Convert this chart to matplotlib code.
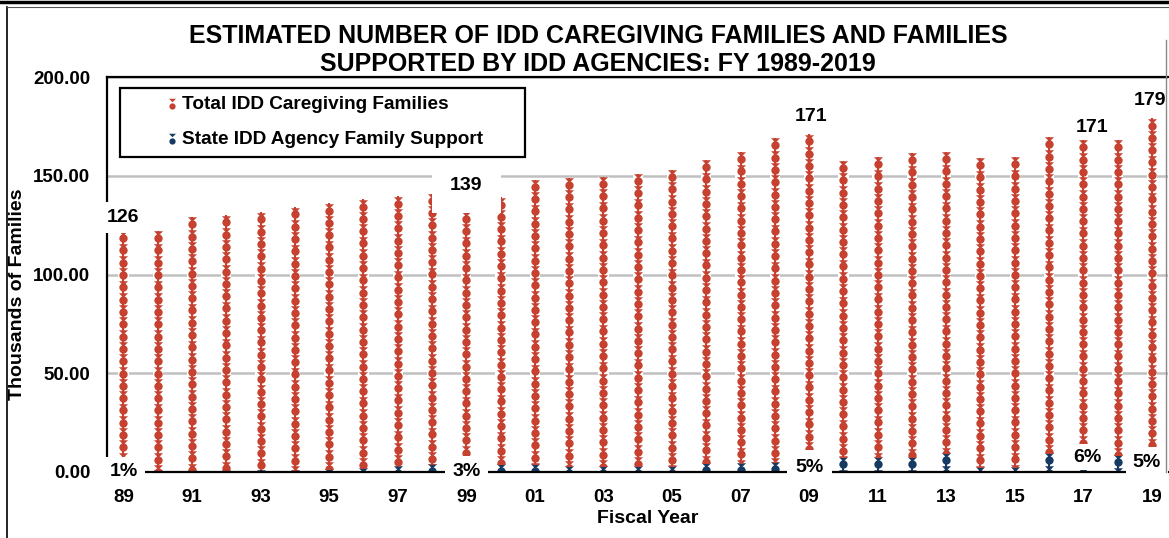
import numpy as np
import matplotlib.pyplot as plt
from matplotlib.patches import Rectangle
from matplotlib.lines import Line2D

plt.rcParams['font.family'] = ['Liberation Sans', 'DejaVu Sans']
plt.rcParams['font.weight'] = 'bold'

# Thousands of families
years = np.arange(1989, 2020)
total = [122, 122, 129, 130, 131.5, 134, 136, 138, 139.5, 141, 138, 139, 148, 149, 149.5,
         151, 153, 158, 162, 169, 171, 157.5, 159.5, 161.5, 162, 159, 159.5, 169.5, 168, 168, 179]
state = [1, 1, 1, 1, 1, 1.2, 1.5, 2, 3, 4, 4, 4, 4, 3, 3, 3, 3, 4.5, 4.5, 5, 8,
         7.5, 7.5, 7.5, 9.5, 2.5, 2.5, 9.5, 1.5, 8.5, 9]

tick_years = years[::2]
tick_labels = ['%02d' % (y % 100) for y in tick_years]
y_ticks = [0, 50, 100, 150, 200]

label_years = [1989, 1999, 2009, 2017, 2019]
label_totals = ['126', '139', '171', '171', '179']
label_pcts = ['1%', '3%', '5%', '6%', '5%']

red = '#c6412f'
navy = '#173a63'

fig = plt.figure(figsize=(11.69, 5.38), dpi=100)
ax = fig.add_axes([107 / 1169, 66 / 538, 1061 / 1169, 395 / 538])
ax.set_xlim(1988.52, 2019.47)
ax.set_ylim(0, 200)

# white strip behind every column (breaks the gridlines like the original)
ax.bar(years, total, width=0.3, color='white', zorder=1)

step = 6.23
tri = [(-1, 0.5), (1, 0.5), (0, -0.5)]


def icon_stack(x, lo, hi, color):
    if hi <= lo:
        return
    tops = np.arange(hi, lo - step, -step)
    clip = Rectangle((x - 0.3, lo), 0.6, hi - lo, transform=ax.transData)
    arts = ax.plot([x, x], [lo, hi], color=color, lw=1.5, zorder=2)
    arts += ax.plot(np.full(len(tops), x), tops - 1.14, ls='none', marker=tri,
                    ms=6.5, color=color, mec='none', zorder=2)
    arts += ax.plot(np.full(len(tops), x), tops - 3.6, ls='none', marker='o',
                    ms=6.0, color=color, mec='none', zorder=2)
    for a in arts:
        a.set_clip_path(clip)


for x, t, s in zip(years, total, state):
    icon_stack(x, 0, s, navy)
    icon_stack(x, s, t, red)

ax.set_axisbelow(True)
ax.yaxis.grid(True, color='#c0c0c0', lw=1.8)
ax.set_xticks(tick_years)
ax.set_xticklabels(tick_labels)
ax.set_yticks(y_ticks)
ax.set_yticklabels(['%.2f' % v for v in y_ticks])
ax.tick_params(axis='both', length=0, labelsize=13.5)
ax.tick_params(axis='y', pad=12)
ax.tick_params(axis='x', pad=12)
for side in ['left', 'bottom', 'top']:
    ax.spines[side].set_linewidth(1.6)
    ax.spines[side].set_color('black')
ax.spines['right'].set_visible(False)

ax.text(0.51, -0.118, 'Fiscal Year', transform=ax.transAxes, ha='center',
        va='center', fontsize=14)
fig.text(18 / 1169, 1 - 294 / 538, 'Thousands of Families', rotation=90,
         ha='center', va='center', fontsize=14)

fig.text(598 / 1169, 1 - 50 / 538,
         'ESTIMATED NUMBER OF IDD CAREGIVING FAMILIES AND FAMILIES\n'
         'SUPPORTED BY IDD AGENCIES: FY 1989-2019',
         ha='center', va='center', fontsize=18, linespacing=1.2)

# value labels on white boxes
top_off = [(0, 9.4), (0, 9.7), (1.5, 12.5), (6.5, 9.5), (-1.5, 12.6)]
top_pad = [5, 13, 0, 0, 0]
pct_off = [(0, 0), (0, 0), (0, 3.6), (3, 10.8), (-3.6, 6.5)]
pct_pad = [5, 5.5, 6, 3, 5]
for i, yr in enumerate(label_years):
    t = total[list(years).index(yr)]
    box = dict(facecolor='white', edgecolor='none', pad=top_pad[i]) if top_pad[i] else None
    ax.annotate(label_totals[i], xy=(yr, t), xytext=top_off[i], textcoords='offset points',
                ha='center', va='center', fontsize=14, bbox=box, zorder=10,
                annotation_clip=False)
    ax.annotate(label_pcts[i], xy=(yr, 0), xytext=pct_off[i], textcoords='offset points',
                ha='center', va='center', fontsize=14, zorder=10, annotation_clip=False,
                bbox=dict(facecolor='white', edgecolor='none', pad=pct_pad[i]))

# legend box drawn by hand
ax.add_patch(Rectangle((0.0123, 0.797), 0.382, 0.175, transform=ax.transAxes,
                       facecolor='white', edgecolor='black', lw=1.6, zorder=11))
for yy, col, name in [(0.9316, red, 'Total IDD Caregiving Families'),
                      (0.843, navy, 'State IDD Agency Family Support')]:
    ax.plot([0.0613], [yy + 0.009], ls='none', marker=tri, ms=5, color=col, mec='none',
            transform=ax.transAxes, zorder=12)
    ax.plot([0.0613], [yy - 0.004], ls='none', marker='o', ms=4.5, color=col, mec='none',
            transform=ax.transAxes, zorder=12)
    ax.text(0.0707, yy, name, transform=ax.transAxes, ha='left', va='center',
            fontsize=13.7, zorder=12)

# outer frame of the picture
fig.add_artist(Line2D([0, 1], [1 - 1.5 / 538] * 2, color='black', lw=2.5))
fig.add_artist(Line2D([7 / 1169] * 2, [0, 1 - 7 / 538], color='black', lw=1.2))
fig.add_artist(Line2D([7 / 1169, 1], [1 - 7 / 538] * 2, color='#555555', lw=0.8))
fig.add_artist(Line2D([1166 / 1169] * 2, [1 - 40 / 538, 1 - 472 / 538], color='#888888', lw=1))

fig.savefig('out.png', dpi=100)
